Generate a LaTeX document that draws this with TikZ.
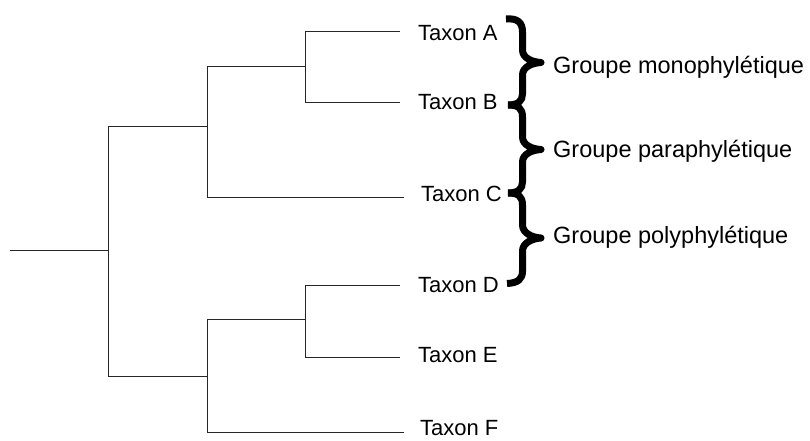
\documentclass[tikz,border=0pt]{standalone}
\usepackage{fontspec}
\setmainfont{Liberation Sans}
\begin{document}
\begin{tikzpicture}[x=1pt,y=-1pt,
  branch/.style={line width=0.9pt, draw=black!85},
  taxon/.style={anchor=west, inner sep=0pt, font=\fontsize{22}{26}\selectfont},
  group/.style={anchor=base west, inner sep=0pt, font=\fontsize{23.5}{28}\selectfont},
  bigbrace/.style={line width=7pt, line join=round, line cap=butt}]
\useasboundingbox[fill=white] (0,0) rectangle (810,440);
% tree coordinates
\coordinate (root) at (10,250);
\coordinate (n0) at (108,250);
\coordinate (nABC) at (207,126);
\coordinate (nAB) at (305,66);
\coordinate (nDEF) at (207,376);
\coordinate (nDE) at (305,319);
\coordinate (lA) at (400,31.7);
\coordinate (lB) at (400,102.3);
\coordinate (lC) at (404,197.7);
\coordinate (lD) at (400,285);
\coordinate (lE) at (400,357.3);
\coordinate (lF) at (404,432.3);
% branches
\draw[branch] (root) -- (n0);
\draw[branch] (n0) |- (nABC);
\draw[branch] (n0) |- (nDEF);
\draw[branch] (nABC) |- (nAB);
\draw[branch] (nABC) |- (lC);
\draw[branch] (nAB) |- (lA);
\draw[branch] (nAB) |- (lB);
\draw[branch] (nDEF) |- (nDE);
\draw[branch] (nDEF) |- (lF);
\draw[branch] (nDE) |- (lD);
\draw[branch] (nDE) |- (lE);
% taxon labels
\node[taxon] (tA) at (418,33) {Taxon A};
\node[taxon] (tB) at (418,102.5) {Taxon B};
\node[taxon] (tC) at (421,194) {Taxon C};
\node[taxon] (tD) at (418,285) {Taxon D};
\node[taxon] (tE) at (418,355) {Taxon E};
\node[taxon] (tF) at (420,428.5) {Taxon F};
% braces
\draw[bigbrace] (506,19) .. controls (517,18) and (522.5,22) .. (522.5,32) -- (522.5,50)
  .. controls (522.5,58) and (532,62) .. (541,62.5)
  .. controls (532,63) and (522.5,67) .. (522.5,75) -- (522.5,94)
  .. controls (522.5,101) and (518,105) .. (508,105);
\draw[bigbrace] (508,105) .. controls (518,105) and (522.5,108) .. (522.5,117) -- (522.5,137)
  .. controls (522.5,145) and (532,149) .. (541,149.5)
  .. controls (532,150) and (522.5,154) .. (522.5,162) -- (522.5,182)
  .. controls (522.5,189) and (518,193) .. (508,193);
\draw[bigbrace] (508,193) .. controls (518,193) and (522.5,196) .. (522.5,205) -- (522.5,225)
  .. controls (522.5,233) and (532,237.5) .. (541,238)
  .. controls (532,238.5) and (522.5,243) .. (522.5,251) -- (522.5,271)
  .. controls (522.5,279) and (518,283) .. (507,283.5);
% group labels
\node[group] (gM) at (553,73) {Groupe monophylétique};
\node[group] (gPa) at (553,157) {Groupe paraphylétique};
\node[group] (gPo) at (553,243) {Groupe polyphylétique};
\end{tikzpicture}
\end{document}
